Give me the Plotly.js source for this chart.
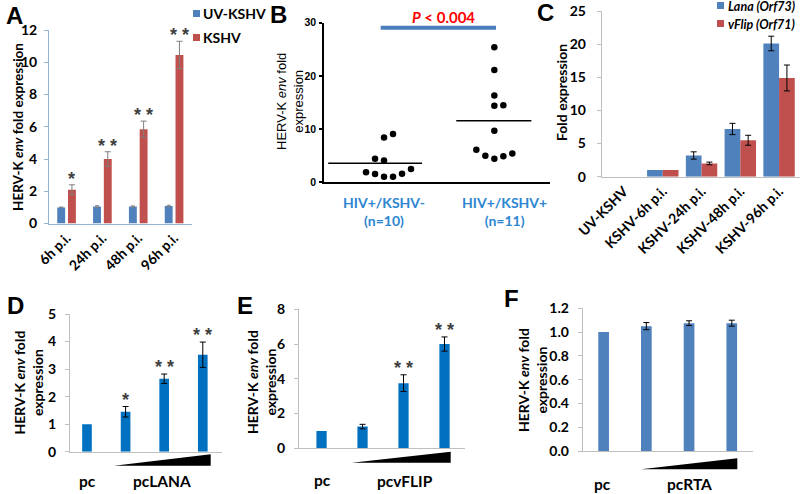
<!DOCTYPE html>
<html>
<head>
<meta charset="utf-8">
<script src="https://cdn.plot.ly/plotly-3.0.1.min.js"></script>
<style>html,body{margin:0;padding:0;background:#fff;}#chart{width:800px;height:494px;}</style>
</head>
<body>
<div id="chart"></div>
<script>
// ---------------- DATA ----------------
// Panel A
const aCategories = ['6h p.i.', '24h p.i.', '48h p.i.', '96h p.i.'];
const aUV = [1.0, 1.05, 1.05, 1.08];
const aUVErr = [0.02, 0.05, 0.04, 0.05];
const aKSHV = [2.1, 4.0, 5.85, 10.45];
const aKSHVErr = [0.3, 0.45, 0.5, 0.85];
const aStars = ['*', '* *', '* *', '* *'];
const aSeriesNames = ['UV-KSHV', 'KSHV'];

// Panel B
const bGroups = ['HIV+/KSHV-<br>(n=10)', 'HIV+/KSHV+<br>(n=11)'];
const bNeg = [9.1, 8.4, 4.45, 4.1, 1.9, 1.55, 1.05, 1.05, 1.6, 2.5];
const bNegSlot = [0.5, -0.5, -1.5, -0.5, -2.5, -1.5, -0.5, 0.5, 1.5, 2.5];
const bPos = [25.4, 21.1, 16.3, 14.4, 14.5, 9.7, 6.1, 5.0, 4.45, 4.9, 5.4];
const bPosSlot = [0, 0, 0, 0, 1, 0, -2, -1, 0, 1, 2];
const bPText = '<i>P</i> &lt; 0.004';

// Panel C
const cCategories = ['UV-KSHV', 'KSHV-6h p.i.', 'KSHV-24h p.i.', 'KSHV-48h p.i.', 'KSHV-96h p.i.'];
const cLana = [0, 1, 3.2, 7.2, 20.1];
const cLanaErr = [null, null, 0.55, 0.85, 1.1];
const cVflip = [0, 1, 2.0, 5.5, 14.9];
const cVflipErr = [null, null, 0.2, 0.75, 1.95];
const cSeriesNames = ['Lana (Orf73)', 'vFlip (Orf71)'];

// Panel D
const dValues = [1.0, 1.45, 2.65, 3.52];
const dErr = [null, 0.19, 0.17, 0.46];
const dStars = ['', '*', '* *', '* *'];
const dLabels = ['pc', 'pcLANA'];

// Panel E
const eValues = [1.0, 1.25, 3.75, 6.0];
const eErr = [null, 0.13, 0.48, 0.41];
const eStars = ['', '', '* *', '* *'];
const eLabels = ['pc', 'pcvFLIP'];

// Panel F
const fValues = [1.0, 1.05, 1.075, 1.075];
const fErr = [null, 0.03, 0.02, 0.025];
const fLabels = ['pc', 'pcRTA'];

// ---------------- STYLE HELPERS ----------------
const W = 800, H = 494;
const px = x => x / W;
const py = y => 1 - y / H;
const FONT = 'Lato, "Open Sans", sans-serif';
const ARIAL = '"Liberation Sans", Arial, sans-serif';
const BLUE = '#4f81bd', RED = '#c0504d', BRIGHT = '#0070c0';
const slotIdx = arr => arr.map((_, i) => i);
const errArr = arr => arr.map(e => (e == null ? NaN : e));   // missing -> no error bar
const barTops = (vals, errs) => vals.map((v, i) => v + (errs[i] || 0));

const traces = [];
const annotations = [];
const shapes = [];

function ann(text, x, y, opts) {
  annotations.push(Object.assign({
    text: text, x: px(x), y: py(y), xref: 'paper', yref: 'paper',
    showarrow: false, xanchor: 'center', yanchor: 'middle',
    font: {family: FONT, size: 14, color: '#000', weight: 'bold'}
  }, opts || {}));
}
function rectPx(x0, y0, x1, y1, color) {
  shapes.push({type: 'rect', xref: 'paper', yref: 'paper', x0: px(x0), x1: px(x1), y0: py(y1), y1: py(y0),
    fillcolor: color, line: {width: 0}});
}
function wedge(x0, x1, yTop, yBot) {
  shapes.push({type: 'path', xref: 'paper', yref: 'paper', fillcolor: '#000', line: {width: 0},
    path: `M ${px(x0)},${py(yBot)} L ${px(x1)},${py(yTop)} L ${px(x1)},${py(yBot)} Z`});
}
function stars(list, xs, tops, xa, ya, shift) {
  list.forEach((s, i) => {
    if (!s) return;
    annotations.push({text: s, x: xs[i], y: tops[i], xref: xa, yref: ya, showarrow: false,
      xanchor: 'center', yanchor: 'bottom', yshift: shift,
      font: {family: ARIAL, size: 18, color: '#404040', weight: 'bold'}});
  });
}

// ---------------- PANEL A ----------------
const aW = 0.22, aOffUV = -0.26, aOffK = 0.04;
traces.push({type: 'bar', x: aCategories, y: aUV, name: aSeriesNames[0], xaxis: 'x', yaxis: 'y',
  width: aW, offset: aOffUV, marker: {color: BLUE},
  error_y: {type: 'data', array: errArr(aUVErr), color: '#7f7f7f', thickness: 1, width: 2}});
traces.push({type: 'bar', x: aCategories, y: aKSHV, name: aSeriesNames[1], xaxis: 'x', yaxis: 'y',
  width: aW, offset: aOffK, marker: {color: RED},
  error_y: {type: 'data', array: errArr(aKSHVErr), color: '#7f7f7f', thickness: 1, width: 3}});
stars(aStars, slotIdx(aCategories).map(i => i + aOffK + aW / 2), barTops(aKSHV, aKSHVErr), 'x', 'y', -6);

// ---------------- PANEL B ----------------
const bSpacing = 0.085;
traces.push({type: 'scatter', mode: 'markers', xaxis: 'x2', yaxis: 'y2', name: 'KSHV-',
  x: bNegSlot.map(s => 1 + s * bSpacing), y: bNeg, marker: {color: '#000', size: 6.5}});
traces.push({type: 'scatter', mode: 'markers', xaxis: 'x2', yaxis: 'y2', name: 'KSHV+',
  x: bPosSlot.map(s => 2 + s * bSpacing), y: bPos, marker: {color: '#000', size: 6.5}});
const mean = a => a.reduce((s, v) => s + v, 0) / a.length;
const bNegMean = mean(bNeg), bPosMean = mean(bPos);
traces.push({type: 'scatter', mode: 'lines', xaxis: 'x2', yaxis: 'y2', x: [0.43, 1.317], y: [bNegMean, bNegMean],
  line: {color: '#000', width: 1.5}, hoverinfo: 'skip'});
traces.push({type: 'scatter', mode: 'lines', xaxis: 'x2', yaxis: 'y2', x: [1.64, 2.35], y: [bPosMean, bPosMean],
  line: {color: '#000', width: 1.5}, hoverinfo: 'skip'});

// ---------------- PANEL C ----------------
const cW = 0.405;
traces.push({type: 'bar', x: cCategories, y: cLana, name: cSeriesNames[0], xaxis: 'x3', yaxis: 'y3',
  width: cW, offset: -cW, marker: {color: BLUE},
  error_y: {type: 'data', array: errArr(cLanaErr), color: '#000', thickness: 1, width: 3}});
traces.push({type: 'bar', x: cCategories, y: cVflip, name: cSeriesNames[1], xaxis: 'x3', yaxis: 'y3',
  width: cW, offset: 0, marker: {color: RED},
  error_y: {type: 'data', array: errArr(cVflipErr), color: '#000', thickness: 1, width: 3}});

// ---------------- PANELS D, E, F ----------------
function simpleBars(vals, errs, xa, ya, color) {
  traces.push({type: 'bar', x: slotIdx(vals), y: vals, xaxis: xa, yaxis: ya, width: 0.25,
    marker: {color: color},
    error_y: {type: 'data', array: errArr(errs), color: '#000', thickness: 1, width: 3, visible: true}});
}
simpleBars(dValues, dErr, 'x4', 'y4', BRIGHT);
stars(dStars, slotIdx(dValues), barTops(dValues, dErr), 'x4', 'y4', -5);
simpleBars(eValues, eErr, 'x5', 'y5', BRIGHT);
stars(eStars, slotIdx(eValues), barTops(eValues, eErr), 'x5', 'y5', -5);
simpleBars(fValues, fErr, 'x6', 'y6', BLUE);

// ---------------- AXES ----------------
const tickBold = (size, fam) => ({family: fam || FONT, size: size, color: '#000', weight: 'bold'});
function xCat(dom, range, color, anchor, showLabels) {
  return {domain: [px(dom[0]), px(dom[1])], range: range, anchor: anchor, showline: true, linecolor: color,
    linewidth: 1, ticks: '', showgrid: false, zeroline: false, fixedrange: true, automargin: false,
    showticklabels: !!showLabels, tickangle: -45, tickfont: tickBold(14)};
}
function yLin(topPx, botPx, range, dtick, color, anchor, extra) {
  return Object.assign({domain: [py(botPx), py(topPx)], range: range, dtick: dtick, anchor: anchor,
    showline: true, linecolor: color, linewidth: 1, ticks: 'outside', ticklen: 4, tickcolor: color,
    showgrid: false, zeroline: false, fixedrange: true, automargin: false, tickfont: tickBold(14),
    ticklabelstandoff: 4}, extra || {});
}
const AX_A = '#95b3d7', AX_G = '#bfbfbf';

const layout = {
  width: W, height: H, margin: {l: 0, r: 0, t: 0, b: 0, pad: 0},
  paper_bgcolor: '#fff', plot_bgcolor: 'rgba(0,0,0,0)', showlegend: false,
  font: {family: FONT, color: '#000'}, barmode: 'overlay',
  xaxis: xCat([49, 192], [-0.49, 3.5], AX_A, 'y', true),
  yaxis: yLin(30, 223.5, [0, 12], 2, AX_A, 'x'),
  xaxis2: {domain: [px(324.3), px(550)], range: [0.393, 2.526], anchor: 'y2', showline: true, linecolor: '#000',
    linewidth: 2, ticks: '', showticklabels: false, showgrid: false, zeroline: false, fixedrange: true},
  yaxis2: yLin(22.7, 182.3, [0, 30], 10, '#000', 'x2',
    {linewidth: 2, tickwidth: 2, ticklen: 3, ticklabelstandoff: 1, tickfont: tickBold(10.5, ARIAL)}),
  xaxis3: xCat([601.7, 800], [-0.576, 4.54], AX_G, 'y3', true),
  yaxis3: yLin(11, 176.7, [0, 25], 5, AX_G, 'x3', {ticklabelstandoff: 8}),
  xaxis4: xCat([70, 221.7], [-0.44, 3.49], AX_G, 'y4', false),
  yaxis4: yLin(314, 451.7, [0, 5], 1, AX_G, 'x4', {ticklabelstandoff: 6}),
  xaxis5: xCat([299, 465], [-0.55, 3.5], AX_G, 'y5', false),
  yaxis5: yLin(309.3, 448.3, [0, 8], 2, AX_G, 'x5', {ticklabelstandoff: 6}),
  xaxis6: xCat([582.7, 752.7], [-0.49, 3.49], AX_G, 'y6', false),
  yaxis6: yLin(308.3, 451, [0, 1.2], 0.2, AX_G, 'x6', {tickformat: '.1f', ticklabelstandoff: 6}),
  annotations: annotations, shapes: shapes
};

// ---------------- TEXT / DECORATION ----------------
const letterFont = {family: ARIAL, size: 24, color: '#000', weight: 'bold'};
ann('A', 14, 16, {font: letterFont});
ann('B', 278, 14, {font: letterFont});
ann('C', 545, 12, {font: letterFont});
ann('D', 15, 305, {font: letterFont});
ann('E', 245, 305, {font: letterFont});
ann('F', 511, 298, {font: letterFont});

// A legend + title
const legFont = {family: FONT, size: 14, color: '#000', weight: 'bold'};
rectPx(193, 10, 200, 17, BLUE);
rectPx(193, 34, 200, 41, RED);
ann(aSeriesNames[0], 201, 13.5, {xanchor: 'left', font: legFont});
ann(aSeriesNames[1], 201, 38, {xanchor: 'left', font: legFont});
ann('HERV-K <i>env</i> fold expression', 18, 127, {textangle: -90, font: {family: FONT, size: 13.5, color: '#000', weight: 'bold'}});

// B decorations
shapes.push({type: 'line', xref: 'paper', yref: 'paper', x0: px(380.7), x1: px(496), y0: py(27.7), y1: py(27.7),
  line: {color: '#4a7ebb', width: 4}});
ann(bPText, 443, 17, {font: {family: FONT, size: 15, color: '#ff0000', weight: 'bold'}});
ann('HERV-K <i>env</i> fold<br>expression', 290, 102, {textangle: -90,
  font: {family: ARIAL, size: 13, color: '#000'}});
const grpFont = {family: FONT, size: 14, color: '#2e86d1', weight: 'bold'};
ann(bGroups[0], 384, 211, {font: grpFont});
ann(bGroups[1], 504, 211, {font: grpFont});

// C legend + title
const legFontC = {family: FONT, size: 12.5, color: '#000', weight: 'bold'};
rectPx(717, 2, 724, 9, BLUE);
rectPx(717, 20, 724, 27, RED);
ann('<i>' + cSeriesNames[0] + '</i>', 726, 6, {xanchor: 'left', font: legFontC});
ann('<i>' + cSeriesNames[1] + '</i>', 726, 24, {xanchor: 'left', font: legFontC});
ann('Fold expression', 561, 93, {textangle: -90});

// D, E, F titles, labels, wedges
ann('HERV-K <i>env</i> fold<br>expression', 27.5, 383, {textangle: -90});
ann('HERV-K <i>env</i> fold<br>expression', 261, 382, {textangle: -90});
ann('HERV-K <i>env</i> fold<br>expression', 532, 380, {textangle: -90});
const lblFont = {family: FONT, size: 15.5, color: '#000', weight: 'bold'};
ann(dLabels[0], 87, 481, {font: lblFont});
ann(dLabels[1], 162, 481, {font: lblFont});
ann(eLabels[0], 322, 480, {font: lblFont});
ann(eLabels[1], 405, 481, {font: lblFont});
ann(fLabels[0], 602, 484, {font: lblFont});
ann(fLabels[1], 689, 484, {font: lblFont});
wedge(114, 210.7, 454.3, 465.7);
wedge(351.7, 450.7, 451.7, 462.7);
wedge(641, 737.3, 458.3, 469.3);

Plotly.newPlot('chart', traces, layout, {staticPlot: true, displayModeBar: false});
</script>
</body>
</html>
